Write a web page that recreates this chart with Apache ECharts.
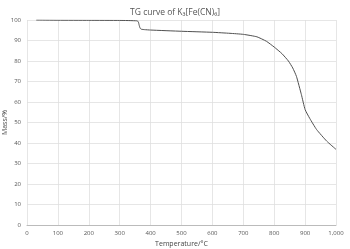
<!DOCTYPE html>
<html><head><meta charset="utf-8">
<script src="https://cdn.jsdelivr.net/npm/echarts@6/dist/echarts.min.js"></script>
<style>html,body{margin:0;padding:0;background:#fff}#c{width:350px;height:249px}</style>
</head><body><div id="c"></div>
<script>
const temperature = [30,100,200,300,355,360,363,366,370,380,400,500,600,657,700,744,775,800,825,846,860,872,888,900,915,937,970,1000];
const mass = [100,99.9,99.85,99.8,99.6,99.2,97.5,96,95.5,95.3,95.1,94.5,94,93.5,93.0,91.8,89.6,86.8,83.6,80.0,76.6,72.5,63.6,56.3,52,46.6,40.9,36.9];
const xTicks = [0,100,200,300,400,500,600,700,800,900,1000];
const yTicks = [0,10,20,30,40,50,60,70,80,90,100];
const chart = echarts.init(document.getElementById('c'));
chart.setOption({
  animation:false,
  title:{text:'TG curve of K₃[Fe(CN)₆]',left:'center',top:3,textStyle:{fontSize:8.5,fontWeight:'normal',color:'#555',fontFamily:'Open Sans'}},
  grid:{left:27,right:14,top:20,bottom:24,containLabel:false,outerBoundsMode:'none'},
  xAxis:{type:'value',min:0,max:1000,interval:100,name:'Temperature/°C',nameLocation:'middle',nameGap:14,
    nameTextStyle:{fontSize:7,color:'#444',fontFamily:'Open Sans'},
    axisLine:{lineStyle:{color:'#bbb'}},axisTick:{show:false},
    axisLabel:{fontSize:6,color:'#555',margin:5,fontFamily:'Open Sans'},
    splitLine:{show:true,lineStyle:{color:'#e0e0e0',width:0.8}}},
  yAxis:{type:'value',min:0,max:100,interval:10,name:'Mass/%',nameLocation:'middle',nameGap:19,nameMoveOverlap:false,
    nameTextStyle:{fontSize:7,color:'#444',fontFamily:'Open Sans'},
    axisLine:{show:false},axisTick:{show:false},
    axisLabel:{fontSize:6,color:'#555',margin:6,fontFamily:'Open Sans'},
    splitLine:{show:true,lineStyle:{color:'#e0e0e0',width:0.8}}},
  series:[{type:'line',data:temperature.map((t,i)=>[t,mass[i]]),showSymbol:false,smooth:0.15,
    lineStyle:{color:'#505050',width:1}}]
});
</script></body></html>
